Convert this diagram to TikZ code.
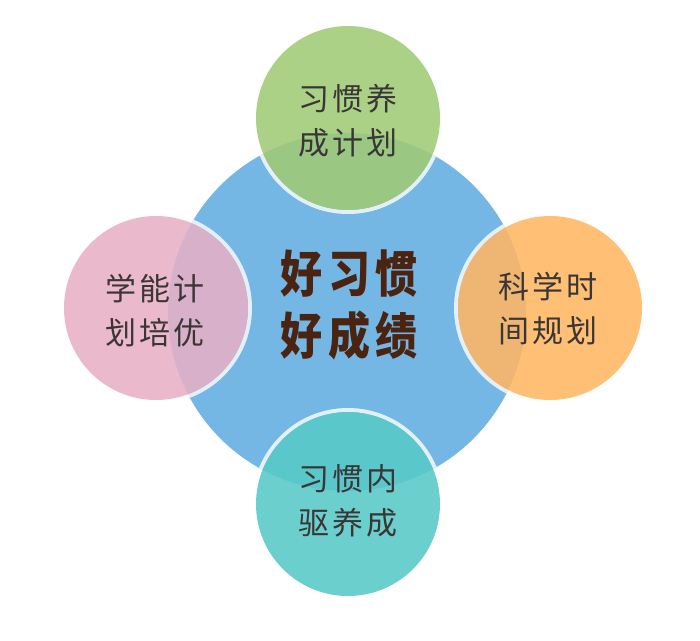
\documentclass[tikz,border=0pt]{standalone}
\usepackage{fontspec}
\usepackage{graphicx}
\newfontfamily\cjk{Noto Sans CJK SC}
\definecolor{bigblue}{HTML}{74B6E4}
\definecolor{cgreen}{HTML}{A0CB76}
\definecolor{cpink}{HTML}{E8B0C6}
\definecolor{corange}{HTML}{FFB763}
\definecolor{cteal}{HTML}{57CAC7}
\definecolor{ctext}{HTML}{3A3636}
\definecolor{ctitle}{HTML}{4A2410}
\tikzset{
  small/.style={circle, minimum size=184pt, inner sep=0pt, fill opacity=0.88},
  ring/.style={draw=white, draw opacity=0.8, line width=4pt},
  lbl/.style={text=ctext, font=\cjk\fontsize{31pt}{44pt}\selectfont, align=center, inner sep=0pt, text opacity=1},
}
\newcommand{\csp}{\hspace{3pt}}
\begin{document}
\begin{tikzpicture}[x=1pt,y=-1pt]
\useasboundingbox (0,0) rectangle (700,640);
\fill[white] (0,0) rectangle (700,640);
\node[circle, fill=bigblue, minimum size=358pt, inner sep=0pt] (hub) at (347,312) {};
\begin{scope}
  \clip (347,312) circle[radius=179pt];
  \draw[ring] (348,118) circle[radius=94pt];
  \draw[ring] (156,308) circle[radius=94pt];
  \draw[ring] (550,308) circle[radius=94pt];
  \draw[ring] (348,504) circle[radius=94pt];
\end{scope}
\node[small, fill=cgreen] (top) at (348,118) {};
\node[small, fill=cpink] (left) at (156,308) {};
\node[small, fill=corange] (right) at (550,308) {};
\node[small, fill=cteal] (bottom) at (348,504) {};
\node[lbl] (ttop) at (348,121) {习\csp 惯\csp 养\\成\csp 计\csp 划};
\node[lbl] (tleft) at (155,311) {学\csp 能\csp 计\\划\csp 培\csp 优};
\node[lbl] (tright) at (548,309) {科\csp 学\csp 时\\间\csp 规\csp 划};
\node[lbl] (tbottom) at (348,501) {习\csp 惯\csp 内\\驱\csp 养\csp 成};
\node[text=ctitle, inner sep=0pt, align=center] (title) at (349,311)
  {\scalebox{0.84}[1]{\cjk\bfseries\fontsize{50pt}{61pt}\selectfont\begin{tabular}{@{}c@{}}好\hspace{6pt}习\hspace{6pt}惯\\[0pt]好\hspace{6pt}成\hspace{6pt}绩\end{tabular}}};
\end{tikzpicture}
\end{document}
